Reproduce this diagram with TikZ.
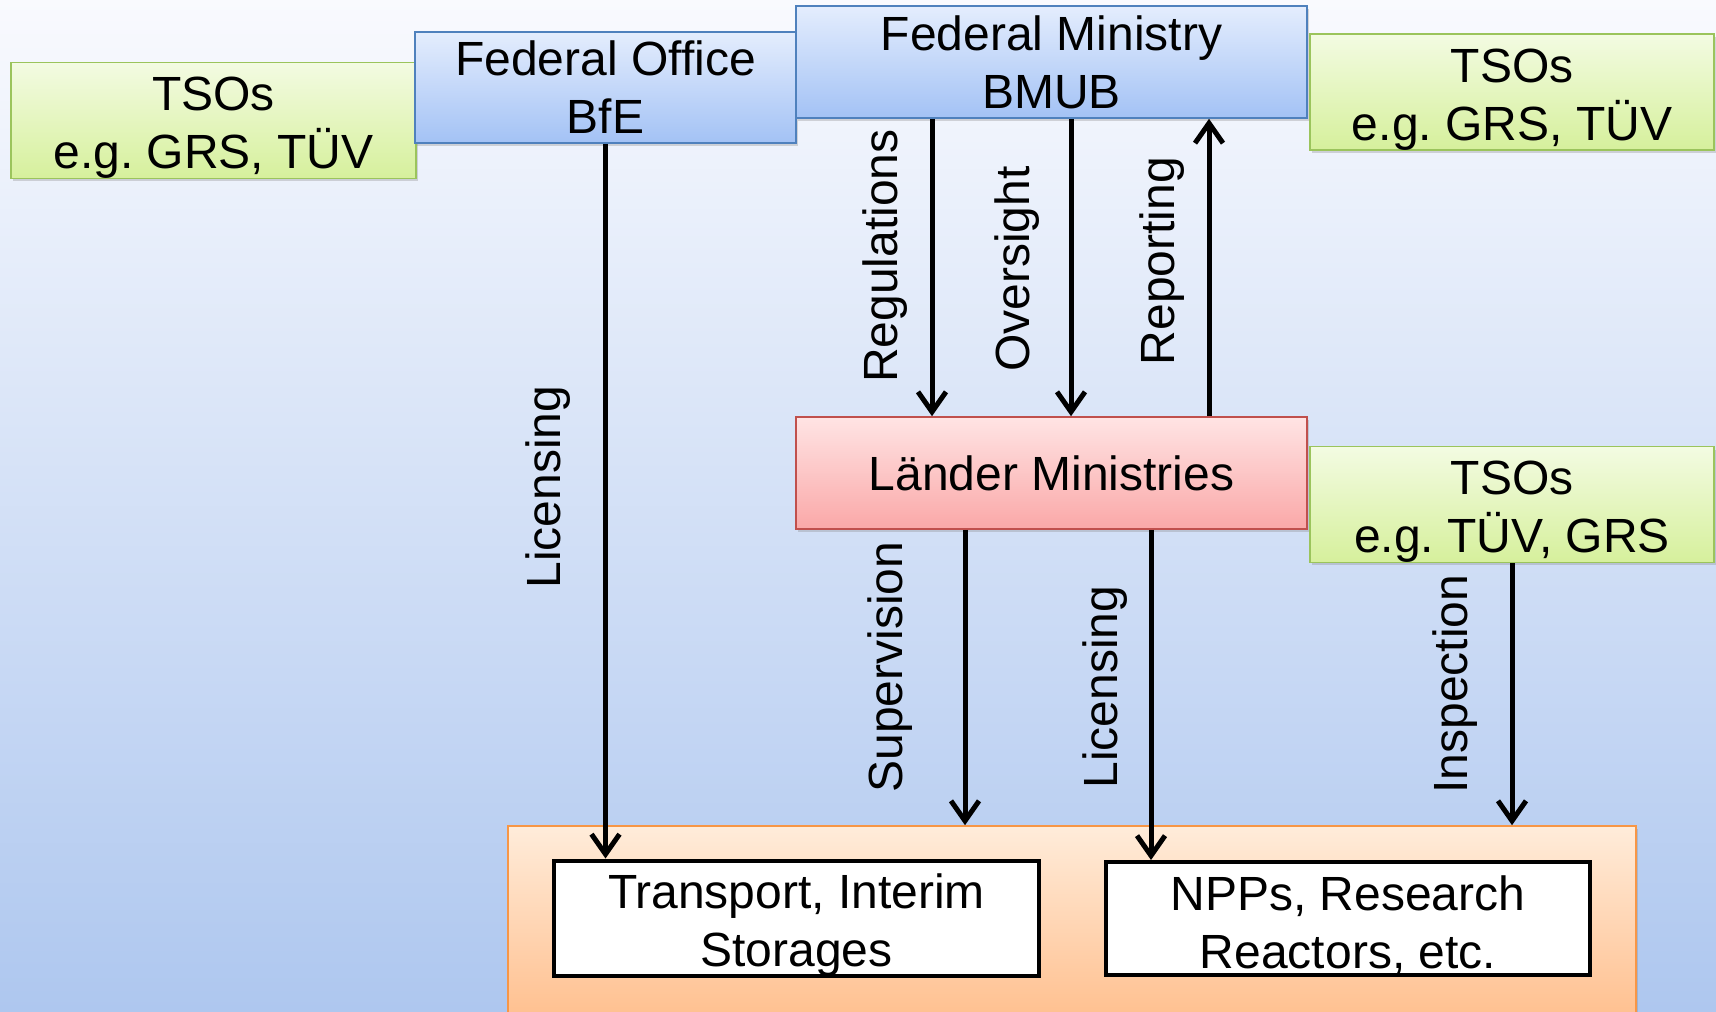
\documentclass[tikz,border=0pt]{standalone}
\usepackage{fontspec}
\setmainfont{Liberation Sans}
\frenchspacing
\usetikzlibrary{arrows.meta,shadows}
\newcommand\lowstrut{\rule{0pt}{24pt}}
\definecolor{bgtop}{RGB}{249,250,254}
\definecolor{bgbot}{RGB}{174,199,239}
\definecolor{bluetop}{RGB}{228,237,253}
\definecolor{bluebot}{RGB}{163,194,245}
\definecolor{blueline}{RGB}{79,129,189}
\definecolor{greentop}{RGB}{243,251,226}
\definecolor{greenbot}{RGB}{214,240,156}
\definecolor{greenline}{RGB}{155,196,92}
\definecolor{redtop}{RGB}{255,228,228}
\definecolor{redbot}{RGB}{250,168,168}
\definecolor{redline}{RGB}{192,80,77}
\definecolor{orangetop}{RGB}{255,236,218}
\definecolor{orangebot}{RGB}{255,190,140}
\definecolor{orangeline}{RGB}{247,150,70}
\tikzset{
  box/.style={draw, line width=0.8pt, align=center, inner sep=0pt,
    font=\fontsize{24}{29}\selectfont,
    drop shadow={opacity=0.3, shadow xshift=1pt, shadow yshift=-1.5pt}},
  bluebox/.style={box, draw=blueline, top color=bluetop, bottom color=bluebot},
  greenbox/.style={box, draw=greenline, top color=greentop, bottom color=greenbot},
  redbox/.style={box, draw=redline, top color=redtop, bottom color=redbot},
  orangebox/.style={box, draw=orangeline, top color=orangetop, bottom color=orangebot},
  whitebox/.style={draw=black, line width=2pt, fill=white, align=center, inner sep=0pt,
    font=\fontsize{24}{29}\selectfont},
  arr/.style={line width=2.5pt, -{Straight Barb[length=10pt,width=14pt,line width=2.5pt]}},
  lbl/.style={rotate=90, font=\fontsize{24}{28}\selectfont, inner sep=0pt}
}
\begin{document}
\begin{tikzpicture}[x=0.5pt,y=-0.5pt]
\clip (0,0) rectangle (1716,1011);
\shade[top color=bgtop, bottom color=bgbot] (0,0) rectangle (1716,1011);

\node[orangebox, minimum width=564pt, minimum height=100pt] (org) at (1072,926) {};
\node[whitebox, minimum width=242.5pt, minimum height=56.5pt] (inner1) at (796.5,918.5) {\lowstrut Transport, Interim\\Storages};
\node[whitebox, minimum width=242pt, minimum height=56.5pt] (inner2) at (1348,918.5) {\lowstrut NPPs, Research\\Reactors, etc.};

\node[greenbox, minimum width=202.5pt, minimum height=56.5pt] (tso1) at (213.5,120.5) {\lowstrut TSOs\\e.g. GRS, TÜV};
\node[bluebox, minimum width=190.5pt, minimum height=55.5pt] (bfe) at (605.5,87.5) {Federal Office\\BfE};
\node[bluebox, minimum width=255.5pt, minimum height=56pt] (bmub) at (1051.5,62) {Federal Ministry\\BMUB};
\node[greenbox, minimum width=202pt, minimum height=56pt] (tso2) at (1512,92) {\lowstrut TSOs\\e.g. GRS, TÜV};
\node[redbox, minimum width=255.5pt, minimum height=56pt] (laender) at (1051.5,473) {Länder Ministries};
\node[greenbox, minimum width=202pt, minimum height=56.5pt] (tso3) at (1512,504.5) {\lowstrut TSOs\\e.g. TÜV, GRS};

\coordinate (xreg) at (932,0);
\coordinate (xove) at (1071,0);
\coordinate (xrep) at (1209,0);
\coordinate (xsup) at (965,0);
\coordinate (xlic) at (1151,0);

\draw[arr] (bfe.south) -- (bfe.south |- inner1.north);
\draw[arr] (bmub.south -| xreg) -- (laender.north -| xreg);
\draw[arr] (bmub.south -| xove) -- (laender.north -| xove);
\draw[arr] (laender.north -| xrep) -- (bmub.south -| xrep);
\draw[arr] (laender.south -| xsup) -- (org.north -| xsup);
\draw[arr] (laender.south -| xlic) -- (inner2.north -| xlic);
\draw[arr] (tso3.south) -- (tso3.south |- org.north);

\node[lbl] (l1) at (548,487) {Licensing};
\node[lbl] (l2) at (885,256) {Regulations};
\node[lbl] (l3) at (1017,269) {Oversight};
\node[lbl] (l4) at (1162,261) {Reporting};
\node[lbl] (l5) at (890,667) {Supervision};
\node[lbl] (l6) at (1105,687) {Licensing};
\node[lbl] (l7) at (1455,684) {Inspection};
\end{tikzpicture}
\end{document}
